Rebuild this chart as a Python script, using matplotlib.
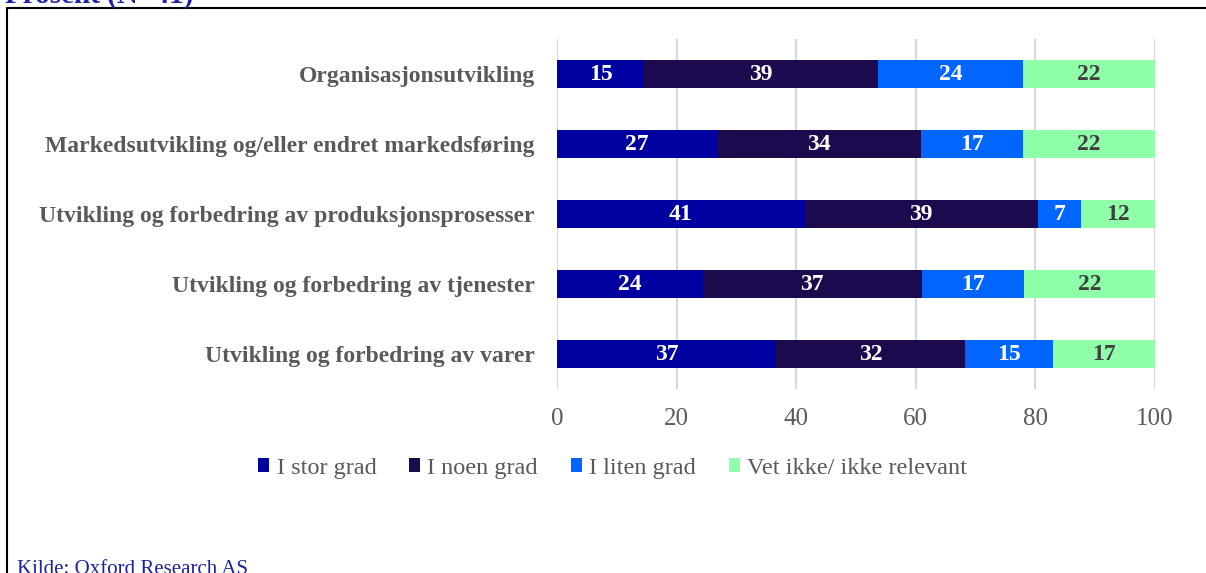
import matplotlib.pyplot as plt
from matplotlib.patches import Rectangle

plt.rcParams['font.family'] = ['Liberation Serif', 'DejaVu Serif']

# kategorier (ovenfra og ned)
categories = [
    'Organisasjonsutvikling',
    'Markedsutvikling og/eller endret markedsføring',
    'Utvikling og forbedring av produksjonsprosesser',
    'Utvikling og forbedring av tjenester',
    'Utvikling og forbedring av varer',
]
series_names = ['I stor grad', 'I noen grad', 'I liten grad', 'Vet ikke/ ikke relevant']
stor = [14.6, 26.8, 41.4, 24.4, 36.6]
noen = [39.0, 34.1, 39.0, 36.6, 31.7]
liten = [24.4, 17.1, 7.3, 17.1, 14.6]
vet_ikke = [22.0, 22.0, 12.3, 22.0, 17.1]

colors = ['#0000A0', '#1B0A4E', '#0066FF', '#8FFFAA']
text_colors = ['white', 'white', 'white', '#404040']
gray = '#595959'

fig = plt.figure(figsize=(12.06, 5.73), dpi=100)
ax = fig.add_axes([0.4619, 0.3211, 0.4958, 0.6108])

y = list(range(len(categories)))
left = [0.0] * len(categories)
for name, vals, c, tc in zip(series_names, [stor, noen, liten, vet_ikke], colors, text_colors):
    bars = ax.barh(y, vals, left=left, height=0.4, color=c, label=name, zorder=3)
    ax.bar_label(bars, labels=[f'{v:.0f}' for v in vals], label_type='center',
                 color=tc, fontsize=17, fontweight='bold')
    left = [l + v for l, v in zip(left, vals)]

ax.set_xlim(0, 100)
ax.set_ylim(len(categories) - 0.5, -0.5)
ax.set_xticks(range(0, 101, 20))
ax.set_yticks(y)
ax.set_yticklabels(categories, fontsize=17, fontweight='bold', color=gray)
ax.tick_params(axis='x', labelsize=18, labelcolor=gray, length=0, pad=14)
ax.tick_params(axis='y', length=0, pad=16)
ax.grid(axis='x', color='#D9D9D9', linewidth=1.5, zorder=0)
for s in ax.spines.values():
    s.set_visible(False)

leg = fig.legend(loc='center', bbox_to_anchor=(0.508, 0.183), ncol=4, frameon=False,
                 fontsize=17.5, handlelength=0.45, handleheight=0.45, handletextpad=0.3,
                 columnspacing=1.35)
for t in leg.get_texts():
    t.set_color(gray)

# ramme rundt figuren
fig.patches.append(Rectangle((7 / 1206, -0.05), 1.05, 1 - 8 / 573 + 0.05,
                             transform=fig.transFigure, fill=False,
                             edgecolor='black', linewidth=1.5))

fig.text(5 / 1206, 1 - 3 / 573, 'Prosent (N=41)', fontsize=21, fontweight='bold',
         color='#1F1FA8', va='baseline', ha='left')
fig.text(17 / 1206, 1 - 560 / 573, 'Kilde: Oxford Research AS', fontsize=15,
         color='#1F1F9F', va='top', ha='left')

fig.savefig('out.png', dpi=100)
